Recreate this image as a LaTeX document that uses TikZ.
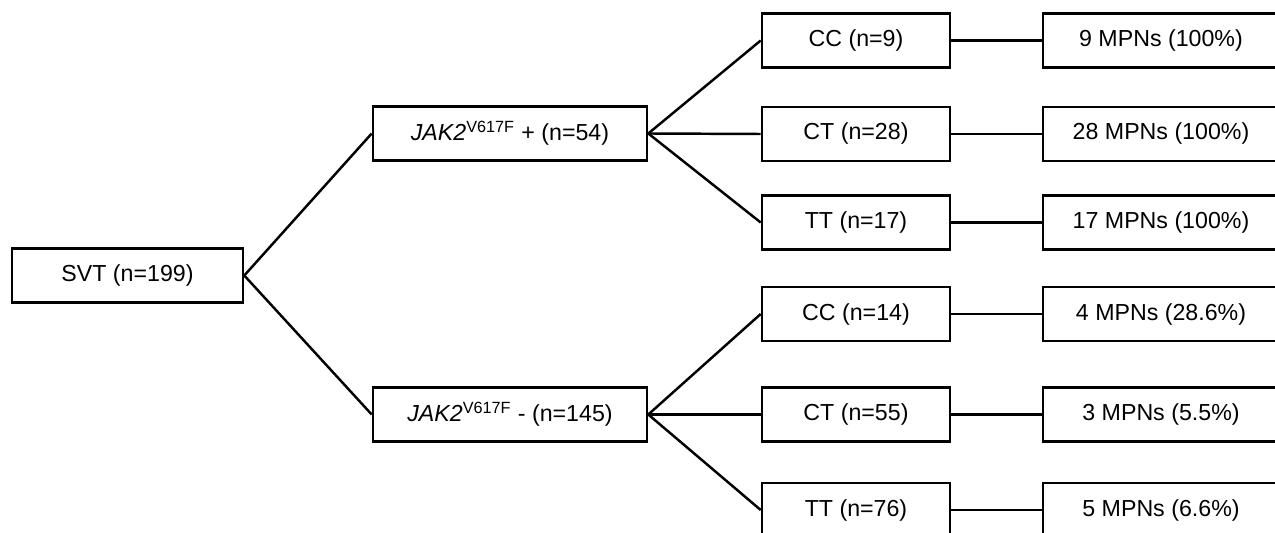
\documentclass[tikz,border=0pt]{standalone}
\usepackage{fontspec}
\setmainfont{Liberation Sans}
\usetikzlibrary{positioning}

\tikzset{
	box/.style={draw, line width=1.5pt, minimum height=1.08cm, inner sep=0pt, font=\fontsize{13.2}{15}\selectfont},
	svtbox/.style={box, minimum width=4.62cm},
	jakbox/.style={box, minimum width=5.48cm},
	genobox/.style={box, minimum width=3.76cm},
	mpnbox/.style={box, minimum width=4.72cm},
	link/.style={line width=1.4pt}
}
\newcommand{\jak}{{\itshape JAK2}\textsuperscript{V617F}}

\begin{document}
\begin{tikzpicture}[x=0.02cm, y=-0.02cm]
			%%%%% START %%%%%
			
			\path[use as bounding box, clip] (0, 0) rectangle (1275, 533);
			
			\node[svtbox] (svt) at (127.5, 275.5) {SVT (n=199)};
			
			\node[jakbox] (jakpos) at (510, 133.5) {\jak{} + (n=54)};
			\node[jakbox] (jakneg) at (510, 414.5) {\jak{} - (n=145)};
			
			\node[genobox] (ccpos) at (856, 40.5) {CC (n=9)};
			\node[genobox] (ctpos) at (856, 134) {CT (n=28)};
			\node[genobox] (ttpos) at (856, 222.5) {TT (n=17)};
			\node[genobox] (ccneg) at (856, 314) {CC (n=14)};
			\node[genobox] (ctneg) at (856, 414.5) {CT (n=55)};
			\node[genobox] (ttneg) at (856, 510) {TT (n=76)};
			
			\node[mpnbox] (mccpos) at (1161, 40.5) {9 MPNs (100\%)};
			\node[mpnbox] (mctpos) at (1161, 134) {28 MPNs (100\%)};
			\node[mpnbox] (mttpos) at (1161, 222.5) {17 MPNs (100\%)};
			\node[mpnbox] (mccneg) at (1161, 314) {4 MPNs (28.6\%)};
			\node[mpnbox] (mctneg) at (1161, 414.5) {3 MPNs (5.5\%)};
			\node[mpnbox] (mttneg) at (1161, 510) {5 MPNs (6.6\%)};
			
			\draw[link] (svt.east) -- (jakpos.west);
			\draw[link] (svt.east) -- (jakneg.west);
			
			\foreach \g in {cc, ct, tt} {
				\draw[link] (jakpos.east) -- (\g pos.west);
				\draw[link] (jakneg.east) -- (\g neg.west);
				\draw[link] (\g pos.east) -- (m\g pos.west);
				\draw[link] (\g neg.east) -- (m\g neg.west);
			}
			
			%%%%% END %%%%%
\end{tikzpicture}
\end{document}
